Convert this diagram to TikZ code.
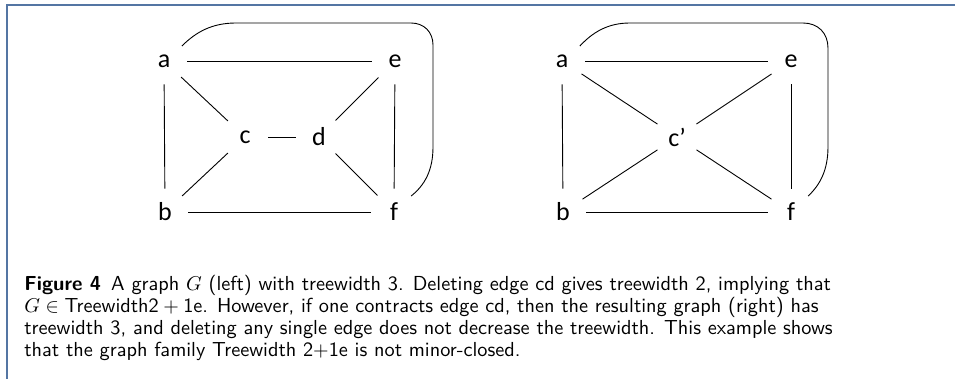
\documentclass[tikz,border=0pt]{standalone}
\usepackage{fontspec}
\newfontfamily\lblfont{Carlito}
\definecolor{framecol}{RGB}{84,117,163}
\begin{document}
\begin{tikzpicture}[x=0.5pt,y=-0.5pt,
  vtx/.style={circle,minimum size=23pt,inner sep=0pt,font=\lblfont\fontsize{13}{15}\selectfont},
  edge/.style={line width=0.45pt,black},
  capline/.style={anchor=base west,inner sep=0pt,font=\sffamily\fontsize{10.15}{11}\selectfont}]
\useasboundingbox (0,0) rectangle (955,379);
\draw[framecol,line width=1pt] (6.5,379) -- (6.5,5.5) -- (955,5.5);
% left graph
\node[vtx] (a) at (164,61) {a};
\node[vtx] (e) at (395,61) {e};
\node[vtx] (c) at (245,137) {c};
\node[vtx] (d) at (319,137) {d};
\node[vtx] (b) at (165,212) {b};
\node[vtx] (f) at (394,212) {f};
\draw[edge] (a) -- (e);
\draw[edge] (a) -- (b);
\draw[edge] (a) -- (c);
\draw[edge] (c) -- (d);
\draw[edge] (c) -- (b);
\draw[edge] (b) -- (f);
\draw[edge] (e) -- (d);
\draw[edge] (d) -- (f);
\draw[edge] (e) -- (f);
\draw[edge] (a.40) .. controls (196,32) and (212,23) .. (236,23) -- (411,23)
  .. controls (424,23) and (433,32) .. (433,45) -- (433,147)
  .. controls (433,170) and (425,185) .. (f.43);
% right graph
\node[vtx] (a2) at (562,61) {a};
\node[vtx] (e2) at (791,61) {e};
\node[vtx] (c2) at (677,137) {c’};
\node[vtx] (b2) at (563,212) {b};
\node[vtx] (f2) at (791,212) {f};
\draw[edge] (a2) -- (e2);
\draw[edge] (a2) -- (b2);
\draw[edge] (a2) -- (c2);
\draw[edge] (e2) -- (c2);
\draw[edge] (c2) -- (b2);
\draw[edge] (c2) -- (f2);
\draw[edge] (b2) -- (f2);
\draw[edge] (e2) -- (f2);
\draw[edge] (a2.40) .. controls (593,32) and (608,23) .. (630,23) -- (803,23)
  .. controls (818,23) and (828,33) .. (828,48) -- (828,147)
  .. controls (828,170) and (820,185) .. (f2.43);
% caption
\node[capline] (cap1) at (24,291) {\textbf{Figure 4}\hspace{0.5em}A graph $G$ (left) with treewidth 3. Deleting edge cd gives treewidth 2, implying that};
\node[capline] (cap2) at (24,313) {$G \in \mbox{Treewidth2} + \mbox{1e}$. However, if one contracts edge cd, then the resulting graph (right) has};
\node[capline] (cap3) at (24,335) {treewidth 3, and deleting any single edge does not decrease the treewidth. This example shows};
\node[capline] (cap4) at (24,357) {that the graph family Treewidth 2$+$1e is not minor-closed.};
\end{tikzpicture}
\end{document}
